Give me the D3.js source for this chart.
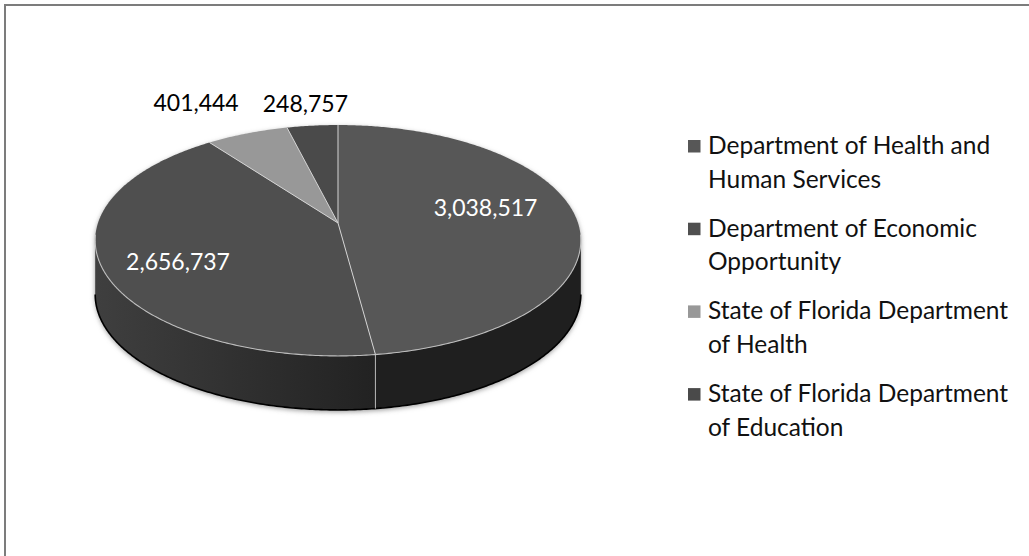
<!DOCTYPE html>
<html>
<head>
<meta charset="utf-8">
<script src="https://cdn.jsdelivr.net/npm/d3@7"></script>
<style>
  html, body { margin: 0; padding: 0; background: #fff; }
  svg { display: block; font-family: Lato, "Open Sans", sans-serif; }
</style>
</head>
<body>
<div id="chart"></div>
<script>
// data
const categories = [
  "Department of Health and Human Services",
  "Department of Economic Opportunity",
  "State of Florida Department of Health",
  "State of Florida Department of Education"
];
const values = [3038517, 2656737, 401444, 248757];
const valueLabels = ["3,038,517", "2,656,737", "401,444", "248,757"];

// grey palette (top faces / legend swatches)
const topColors = ["#575757", "#4f4f4f", "#989898", "#4a4a4a"];
const wallColors = ["#1f1f1f", "url(#wall2)", "#7a7a7a", "#333"];

const width = 1029, height = 556;

const svg = d3.select("#chart").append("svg")
  .attr("width", width)
  .attr("height", height);

const defs = svg.append("defs");
const grad = defs.append("linearGradient")
  .attr("id", "wall2")
  .attr("gradientUnits", "userSpaceOnUse")
  .attr("x1", 95).attr("x2", 375).attr("y1", 0).attr("y2", 0);
grad.append("stop").attr("offset", "0%").attr("stop-color", "#3f3f3f");
grad.append("stop").attr("offset", "100%").attr("stop-color", "#222");

defs.append("filter").attr("id", "soft")
  .attr("x", "-10%").attr("y", "-10%").attr("width", "120%").attr("height", "130%")
  .append("feGaussianBlur").attr("stdDeviation", 2.5);

// outer frame (right / bottom edges fall outside the picture)
svg.append("rect")
  .attr("x", 5).attr("y", 5)
  .attr("width", 1200).attr("height", 800)
  .attr("fill", "none")
  .attr("stroke", "#7c7c7c")
  .attr("stroke-width", 2);

// ===== 3D pie projection =====
const CX = 338, CY = 223;   // projected pie centre (top face)
const RX = 240, RY = 112.8; // horizontal / vertical radii
const K = 0.1514;           // perspective strength
const DEPTH = 54;           // pie thickness

function proj(theta, r = 1, drop = 0) {
  const u = r * Math.sin(theta);
  const v = -r * Math.cos(theta);
  const w = 1 - K * v;
  return [CX + RX * u / w, CY + RY * v / w + drop];
}

function arcPoints(a, b, drop) {
  const n = Math.max(2, Math.ceil(Math.abs(b - a) / 0.01));
  return d3.range(n + 1).map(i => proj(a + (b - a) * i / n, 1, drop));
}

const line = d3.line();

const pie = d3.pie().sort(null).value(d => d);
const arcs = pie(values);

// silhouette angles (where the side wall becomes visible)
const thR = Math.acos(-K);
const thL = 2 * Math.PI - thR;

const g = svg.append("g");

// soft shadow behind everything
const shadowPts = [
  ...arcPoints(-(2 * Math.PI - thL), thR, 0),
  ...arcPoints(thR, thL, DEPTH)
];
g.append("path")
  .attr("d", line(shadowPts) + "Z")
  .attr("fill", "#9a9a9a")
  .attr("transform", "translate(0,2)")
  .attr("filter", "url(#soft)");

// side walls (front part only)
arcs.forEach((d, i) => {
  const a = Math.max(d.startAngle, thR);
  const b = Math.min(d.endAngle, thL);
  if (b <= a) return;
  const pts = [...arcPoints(a, b, 0), ...arcPoints(b, a, DEPTH)];
  g.append("path")
    .attr("d", line(pts) + "Z")
    .attr("fill", wallColors[i]);
});

// dark bottom edge
g.append("path")
  .attr("d", line(arcPoints(thR, thL, DEPTH)))
  .attr("fill", "none")
  .attr("stroke", "#000")
  .attr("stroke-width", 1.6);

// wall seams
arcs.forEach(d => {
  const t = d.endAngle;
  if (t > thR && t < thL) {
    g.append("line")
      .attr("x1", proj(t)[0]).attr("y1", proj(t)[1])
      .attr("x2", proj(t, 1, DEPTH)[0]).attr("y2", proj(t, 1, DEPTH)[1])
      .attr("stroke", "#b8b8b8")
      .attr("stroke-width", 1);
  }
});

// top faces
arcs.forEach((d, i) => {
  const pts = [proj(0, 0), ...arcPoints(d.startAngle, d.endAngle, 0)];
  g.append("path")
    .attr("d", line(pts) + "Z")
    .attr("fill", topColors[i]);
});

// front rim highlight
g.append("path")
  .attr("d", line(arcPoints(thR - 0.05, thL + 0.05, 0)))
  .attr("fill", "none")
  .attr("stroke", "#bdbdbd")
  .attr("stroke-width", 1.1);

// slice separators
arcs.forEach(d => {
  const p = proj(d.startAngle);
  g.append("line")
    .attr("x1", CX).attr("y1", CY)
    .attr("x2", p[0]).attr("y2", p[1])
    .attr("stroke", "#d4d4d4")
    .attr("stroke-width", 1);
});

// ===== data labels =====
// inside labels sit on the top face, small slices get theirs above the rim
const labelLayout = [
  { r: 0.62, dx: 0, dy: -10, color: "#fff" },
  { r: 0.7, dx: 2, dy: 8, color: "#fff" },
  { r: 1, dx: -51, dy: -30, color: "#000" },
  { r: 1, dx: -7, dy: -22, color: "#000" }
];

arcs.forEach((d, i) => {
  const L = labelLayout[i];
  const mid = (d.startAngle + d.endAngle) / 2;
  const p = proj(mid, L.r);
  svg.append("text")
    .attr("x", p[0] + L.dx)
    .attr("y", p[1] + L.dy)
    .attr("dy", "0.35em")
    .attr("text-anchor", "middle")
    .attr("font-size", 23)
    .attr("fill", L.color)
    .text(valueLabels[i]);
});

// ===== legend =====
const legendX = 688, legendY = 154, entryGap = 82.7, lineGap = 33.5;
const legend = svg.append("g").attr("class", "legend");

categories.forEach((name, i) => {
  const y0 = legendY + i * entryGap;
  legend.append("rect")
    .attr("x", legendX).attr("y", y0 - 14)
    .attr("width", 12.5).attr("height", 12.5)
    .attr("fill", topColors[i]);

  const txt = legend.append("text")
    .attr("x", legendX + 20)
    .attr("y", y0)
    .attr("font-size", 24.5)
    .attr("fill", "#111");

  // simple word wrap
  const words = name.split(" ");
  let lineWords = [];
  let tspan = txt.append("tspan").attr("x", legendX + 20).attr("y", y0);
  let lineNo = 0;
  words.forEach(w => {
    lineWords.push(w);
    tspan.text(lineWords.join(" "));
    if (tspan.node().getComputedTextLength() > 306 && lineWords.length > 1) {
      lineWords.pop();
      tspan.text(lineWords.join(" "));
      lineWords = [w];
      lineNo++;
      tspan = txt.append("tspan")
        .attr("x", legendX + 20)
        .attr("y", y0 + lineNo * lineGap)
        .text(w);
    }
  });
});
</script>
</body>
</html>
